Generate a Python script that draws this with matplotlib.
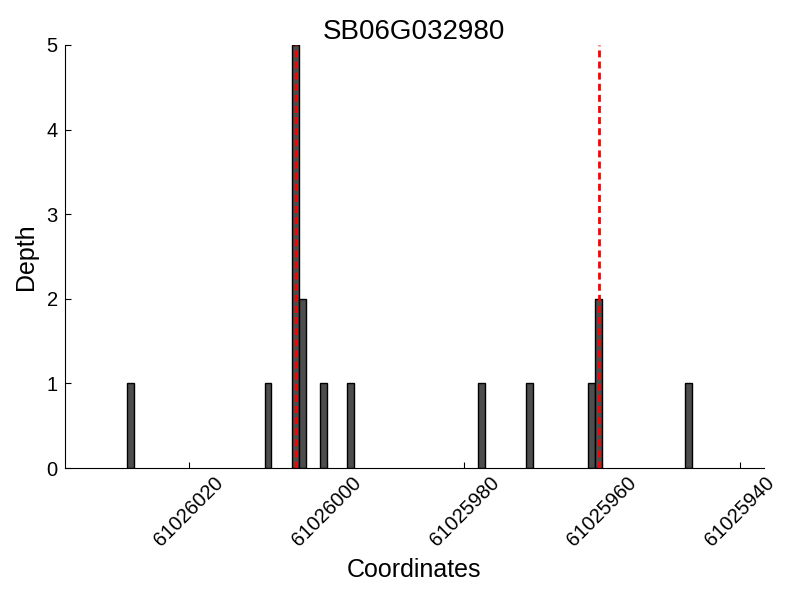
import matplotlib
matplotlib.use("Agg")
import matplotlib.pyplot as plt

plt.rcParams['font.family'] = ['Liberation Sans', 'DejaVu Sans']

# read depth histogram (bar left edges in genome coords, width 1)
bar_start = [61026028, 61026008, 61026004, 61026003, 61026000, 61025996,
             61025977, 61025970, 61025961, 61025960, 61025947]
depth = [1, 1, 5, 2, 1, 1, 1, 1, 1, 2, 1]

# marked positions
marks = [61026004.5, 61025960.5]

xticks = [61026020, 61026000, 61025980, 61025960, 61025940]
yticks = [0, 1, 2, 3, 4, 5]

fig = plt.figure(figsize=(8, 6), dpi=100)
ax = fig.add_axes([0.081, 0.22, 0.874, 0.705])

ax.bar(bar_start, depth, width=1, align='edge', color='#4d4d4d',
       edgecolor='black', linewidth=1, zorder=2)

for m in marks:
    ax.plot([m, m], [0, 5], color='red', linewidth=2, dashes=(2.5, 1.5), zorder=3)

ax.set_xlim(61026038, 61025936.5)
ax.set_ylim(0, 5)
ax.set_xticks(xticks)
ax.set_xticklabels([str(t) for t in xticks], rotation=45, fontsize=14.5)
ax.set_yticks(yticks)
ax.set_yticklabels([str(t) for t in yticks], fontsize=14.5)

ax.spines['top'].set_visible(False)
ax.spines['right'].set_visible(False)
ax.tick_params(direction='in', length=4, width=0.8, top=False, right=False)
ax.tick_params(axis='y', pad=5)

ax.set_title("SB06G032980", fontsize=20, pad=3)
ax.set_xlabel("Coordinates", fontsize=18, labelpad=6)
ax.set_ylabel("Depth", fontsize=18, labelpad=6)

plt.savefig("out.png", dpi=100)
plt.close()
